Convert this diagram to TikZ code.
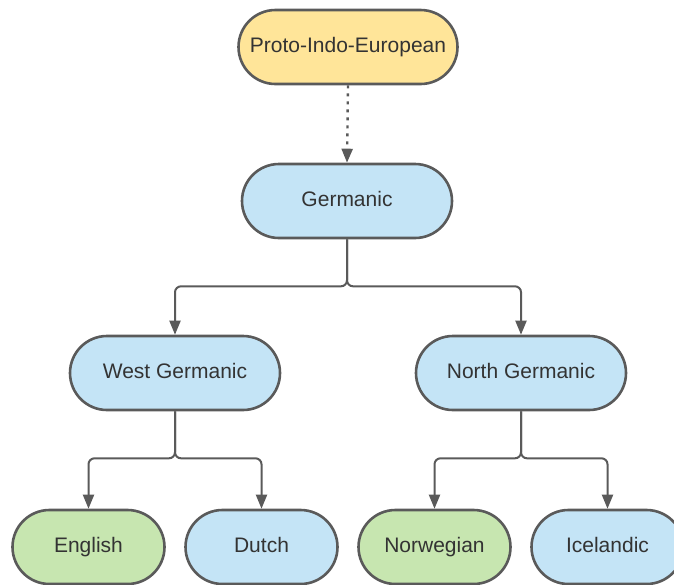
\documentclass[tikz,border=0pt]{standalone}
\usepackage{fontspec}
\setmainfont{Liberation Sans}
\usetikzlibrary{arrows.meta}
\definecolor{pieyellow}{RGB}{255,229,153}
\definecolor{langblue}{RGB}{196,228,246}
\definecolor{langgreen}{RGB}{199,230,176}
\definecolor{edgegray}{RGB}{90,90,90}
\definecolor{textgray}{RGB}{51,51,51}
\tikzset{
  langbox/.style={draw=edgegray, line width=2.6pt, rounded corners=37pt,
    minimum height=74pt, inner sep=0pt, text=textgray,
    text height=15pt, text depth=4.5pt,
    font=\fontsize{21}{25}\selectfont},
  wide/.style={langbox, minimum width=210pt},
  leaf/.style={langbox, minimum width=152pt},
  link/.style={draw=edgegray, line width=2pt, rounded corners=6pt,
    -{Triangle[width=11pt,length=14pt]}},
  dotlink/.style={draw=edgegray, line width=2.4pt,
    dash pattern=on 3pt off 5pt, -{Triangle[width=11pt,length=14pt]}}
}
\begin{document}
\begin{tikzpicture}[x=1pt,y=-1pt]
  \useasboundingbox (0,0) rectangle (674,584);
  \clip (0,0) rectangle (674,584);

  % family tree nodes
  \node[wide, fill=pieyellow, minimum width=219pt] (pie) at (348,47) {Proto-Indo-European};
  \node[wide, fill=langblue] (ger) at (347,201) {Germanic};
  \node[wide, fill=langblue] (wg) at (175,373) {West Germanic};
  \node[wide, fill=langblue] (ng) at (521,373) {North Germanic};
  \node[leaf, fill=langgreen] (en) at (88.5,547) {English};
  \node[leaf, fill=langblue] (nl) at (261.5,547) {Dutch};
  \node[leaf, fill=langgreen] (no) at (434.5,547) {Norwegian};
  \node[leaf, fill=langblue] (is) at (607.5,547) {Icelandic};

  % connectors
  \draw[dotlink] (pie.south) -- (ger.north);
  \draw[link] (ger.south) -- ++(0,47) -| (wg.north);
  \draw[link] (ger.south) -- ++(0,47) -| (ng.north);
  \draw[link] (wg.south) -- ++(0,47) -| (en.north);
  \draw[link] (wg.south) -- ++(0,47) -| (nl.north);
  \draw[link] (ng.south) -- ++(0,47) -| (no.north);
  \draw[link] (ng.south) -- ++(0,47) -| (is.north);
\end{tikzpicture}
\end{document}
